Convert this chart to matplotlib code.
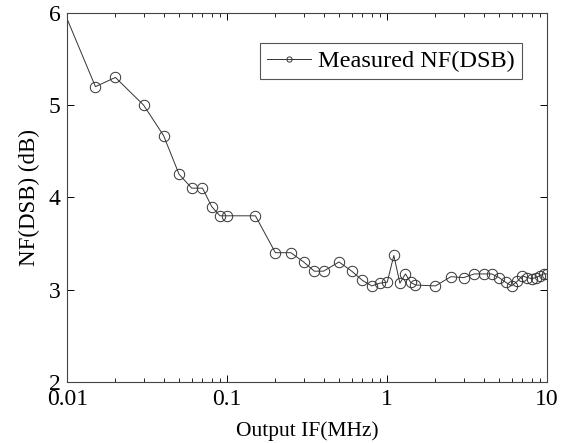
import matplotlib.pyplot as plt
import numpy as np

plt.rcParams['font.family'] = ['Liberation Serif', 'DejaVu Serif']

# output IF (MHz) and measured noise figure (dB)
freq = [0.01, 0.015, 0.02, 0.03, 0.04, 0.05, 0.06, 0.07, 0.08, 0.09, 0.1,
        0.15, 0.2, 0.25, 0.3, 0.35, 0.4, 0.5, 0.6, 0.7, 0.8, 0.9, 1.0, 1.1,
        1.2, 1.3, 1.4, 1.5, 2.0, 2.5, 3.0, 3.5, 4.0, 4.5, 5.0, 5.5, 6.0, 6.5,
        7.0, 7.5, 8.0, 8.5, 9.0, 9.5, 10.0]
nf = [5.93, 5.2, 5.3, 5.0, 4.67, 4.25, 4.1, 4.1, 3.9, 3.8, 3.8,
      3.8, 3.4, 3.4, 3.3, 3.2, 3.2, 3.3, 3.2, 3.1, 3.04, 3.07, 3.08, 3.37,
      3.07, 3.17, 3.08, 3.05, 3.04, 3.14, 3.13, 3.17, 3.17, 3.17, 3.13, 3.08, 3.04, 3.09,
      3.15, 3.13, 3.12, 3.13, 3.15, 3.17, 3.17]

fig = plt.figure(figsize=(5.7, 4.43), dpi=100)
ax = fig.add_axes([0.118, 0.138, 0.842, 0.833])

ax.plot(freq, nf, color='#333333', lw=0.7, marker='o', markersize=7.5,
        markerfacecolor='none', markeredgecolor='#333333', markeredgewidth=0.7,
        markevery=slice(1, None), label='Measured NF(DSB)')

ax.set_xscale('log')
ax.set_xlim(0.01, 10)
ax.set_ylim(2, 6)
ax.set_yticks([2, 3, 4, 5, 6])
ax.set_xticks([0.01, 0.1, 1, 10])
ax.set_xticklabels(['0.01', '0.1', '1', '10'])
ax.tick_params(which='both', direction='in', top=True, right=True, labelsize=17)
ax.tick_params(which='major', length=5, width=0.7, pad=5)
ax.tick_params(which='minor', length=3, width=0.6)
for s in ax.spines.values():
    s.set_color('#444444')
    s.set_linewidth(0.8)

ax.set_xlabel('Output IF(MHz)', fontsize=15.5, labelpad=8)
ax.set_ylabel('NF(DSB) (dB)', fontsize=16.5, labelpad=6)

leg = ax.legend(loc='upper right', bbox_to_anchor=(0.948, 0.919), fontsize=17.5,
                markerscale=0.5, fancybox=False, framealpha=1, handlelength=1.8,
                borderpad=0.3, handletextpad=0.3, borderaxespad=0)
leg.get_frame().set_edgecolor('#555555')
leg.get_frame().set_linewidth(0.8)

fig.savefig('out.png', dpi=100)
